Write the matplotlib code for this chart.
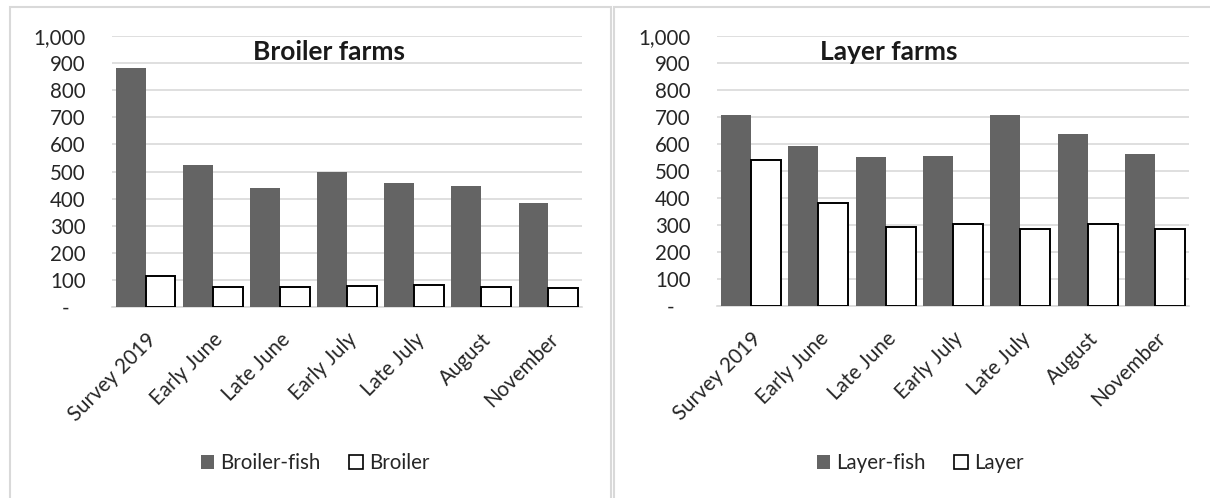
import matplotlib
matplotlib.use("Agg")
import matplotlib.pyplot as plt
from matplotlib.patches import Rectangle, Patch
import numpy as np

plt.rcParams['font.family'] = ['Lato', 'DejaVu Sans']

categories = ["Survey 2019", "Early June", "Late June", "Early July",
              "Late July", "August", "November"]
broiler_fish = [883, 523, 440, 499, 458, 445, 383]
broiler = [113, 74, 74, 79, 80, 74, 71]
layer_fish = [706, 594, 553, 556, 706, 636, 562]
layer = [540, 381, 294, 305, 284, 303, 287]
y_ticks = [0, 100, 200, 300, 400, 500, 600, 700, 800, 900, 1000]
y_tick_labels = ["-   ", "100", "200", "300", "400", "500", "600",
                 "700", "800", "900", "1,000"]

W, H = 1210, 498
fig = plt.figure(figsize=(W / 100, H / 100), dpi=100)

FISH = "#646464"
GRID = "#d9d9d9"
TEXT = "#262626"
FS = 14.8

# Panel frames
for x0, x1 in [(10, 611), (614, 1212)]:
    fig.patches.append(Rectangle((x0 / W, -0.05), (x1 - x0) / W, 1.05 - 7 / H,
                                 transform=fig.transFigure, fill=False,
                                 edgecolor=GRID, lw=1.5))


def panel(rect, fish, other, title, title_x, names, legend_x):
    ax = fig.add_axes(rect)
    x = np.arange(len(categories))
    w = 0.445
    ax.bar(x - w / 2, fish, w, color=FISH, edgecolor="none", zorder=3)
    ax.bar(x + w / 2, other, w, color="white", edgecolor="black", lw=1.4, zorder=3)
    ax.set_xlim(-0.5, len(categories) - 0.5)
    ax.set_ylim(0, 1000)
    ax.set_yticks(y_ticks)
    ax.set_yticklabels(y_tick_labels, fontsize=FS, color=TEXT)
    ax.yaxis.grid(True, color=GRID, lw=1.2, zorder=0)
    ax.set_xticks(x)
    ax.set_xticklabels(categories, rotation=45, ha="right", va="top",
                       rotation_mode="anchor", fontsize=FS, color=TEXT)
    ax.tick_params(axis="both", length=0)
    ax.tick_params(axis="x", pad=16)
    ax.tick_params(axis="y", pad=19)
    for s in ["top", "right", "left"]:
        ax.spines[s].set_visible(False)
    ax.spines["bottom"].set_color(GRID)
    ax.spines["bottom"].set_linewidth(1.2)
    fig.text(title_x / W, 1 - 52 / H, title, fontsize=19, fontweight="bold",
             ha="center", va="center", color="#1a1a1a")
    handles = [Patch(facecolor=FISH, edgecolor="none"),
               Patch(facecolor="white", edgecolor="black", lw=1.2)]
    fig.legend(handles, names, loc="center", ncol=2, frameon=False,
               bbox_to_anchor=(legend_x / W, 1 - 463 / H),
               bbox_transform=fig.transFigure,
               fontsize=FS, handlelength=0.65, handleheight=0.65,
               handletextpad=0.3, columnspacing=1.4, labelcolor=TEXT)
    return ax


panel([112 / W, 1 - 307 / H, 470 / W, 271 / H], broiler_fish, broiler,
      "Broiler farms", 329, ["Broiler-fish", "Broiler"], 315)
panel([717 / W, 1 - 306 / H, 472 / W, 270 / H], layer_fish, layer,
      "Layer farms", 889, ["Layer-fish", "Layer"], 920)

fig.savefig("out.png", dpi=100, facecolor="white")
